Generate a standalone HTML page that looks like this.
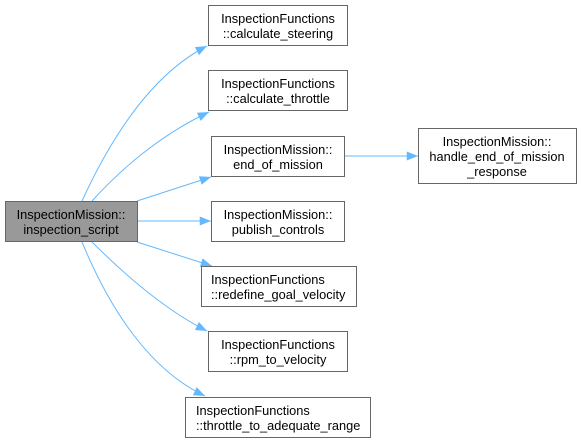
<!DOCTYPE html>
<html><head><meta charset="utf-8"><style>
html,body{margin:0;padding:0;background:#fff;width:581px;height:443px;overflow:hidden}
text{font-family:"Liberation Sans",Helvetica,Arial,sans-serif;font-size:12.8px;fill:#000}
</style></head><body>
<svg width="581" height="443" viewBox="0 0 581 443" xmlns="http://www.w3.org/2000/svg">
<defs>
<marker id="a" viewBox="0 0 10 8" refX="10" refY="4" markerWidth="12" markerHeight="9" markerUnits="userSpaceOnUse" orient="auto">
<path d="M0,0 L10,4 L0,8 z" fill="#63b8ff"/>
</marker>
</defs>
<g fill="none" stroke="#63b8ff" stroke-width="1" marker-end="url(#a)">
<path d="M82,201 C110,140 150,75 207,46"/>
<path d="M92,201 C120,170 160,135 209,112"/>
<path d="M137,201 L211,177"/>
<path d="M137,221 L211,221"/>
<path d="M137,242 L212,266"/>
<path d="M92,242 C125,275 165,310 207,331"/>
<path d="M82,242 C110,310 150,370 205,396"/>
<path d="M344,156 L418,156"/>
</g>
<g stroke="#666" stroke-width="1">
<rect x="5.5" y="201.5" width="132" height="40" fill="#999"/>
<rect x="208.5" y="5.5" width="139" height="40" fill="#fff"/>
<rect x="208.5" y="70.5" width="139" height="40" fill="#fff"/>
<rect x="211.5" y="136.5" width="133" height="40" fill="#fff"/>
<rect x="211.5" y="201.5" width="133" height="40" fill="#fff"/>
<rect x="201.5" y="266.5" width="155" height="40" fill="#fff"/>
<rect x="208.5" y="331.5" width="139" height="40" fill="#fff"/>
<rect x="185.5" y="397.5" width="185" height="40" fill="#fff"/>
<rect x="418.5" y="128.5" width="158" height="55" fill="#fff"/>
</g>
<g text-anchor="middle">
<text x="71" y="219">InspectionMission::</text>
<text x="71" y="234">inspection_script</text>
<text x="278" y="23">InspectionFunctions</text>
<text x="278" y="38">::calculate_steering</text>
<text x="278" y="88">InspectionFunctions</text>
<text x="278" y="103">::calculate_throttle</text>
<text x="278" y="154">InspectionMission::</text>
<text x="278" y="169">end_of_mission</text>
<text x="278" y="219">InspectionMission::</text>
<text x="278" y="234">publish_controls</text>
<text x="278" y="349">InspectionFunctions</text>
<text x="278" y="364">::rpm_to_velocity</text>
<text x="497" y="146">InspectionMission::</text>
<text x="497" y="161">handle_end_of_mission</text>
<text x="497" y="176">_response</text>
</g>
<text x="211" y="284">InspectionFunctions</text>
<text x="211" y="299">::redefine_goal_velocity</text>
<text x="196" y="415">InspectionFunctions</text>
<text x="196" y="430">::throttle_to_adequate_range</text>
</svg>
</body></html>
